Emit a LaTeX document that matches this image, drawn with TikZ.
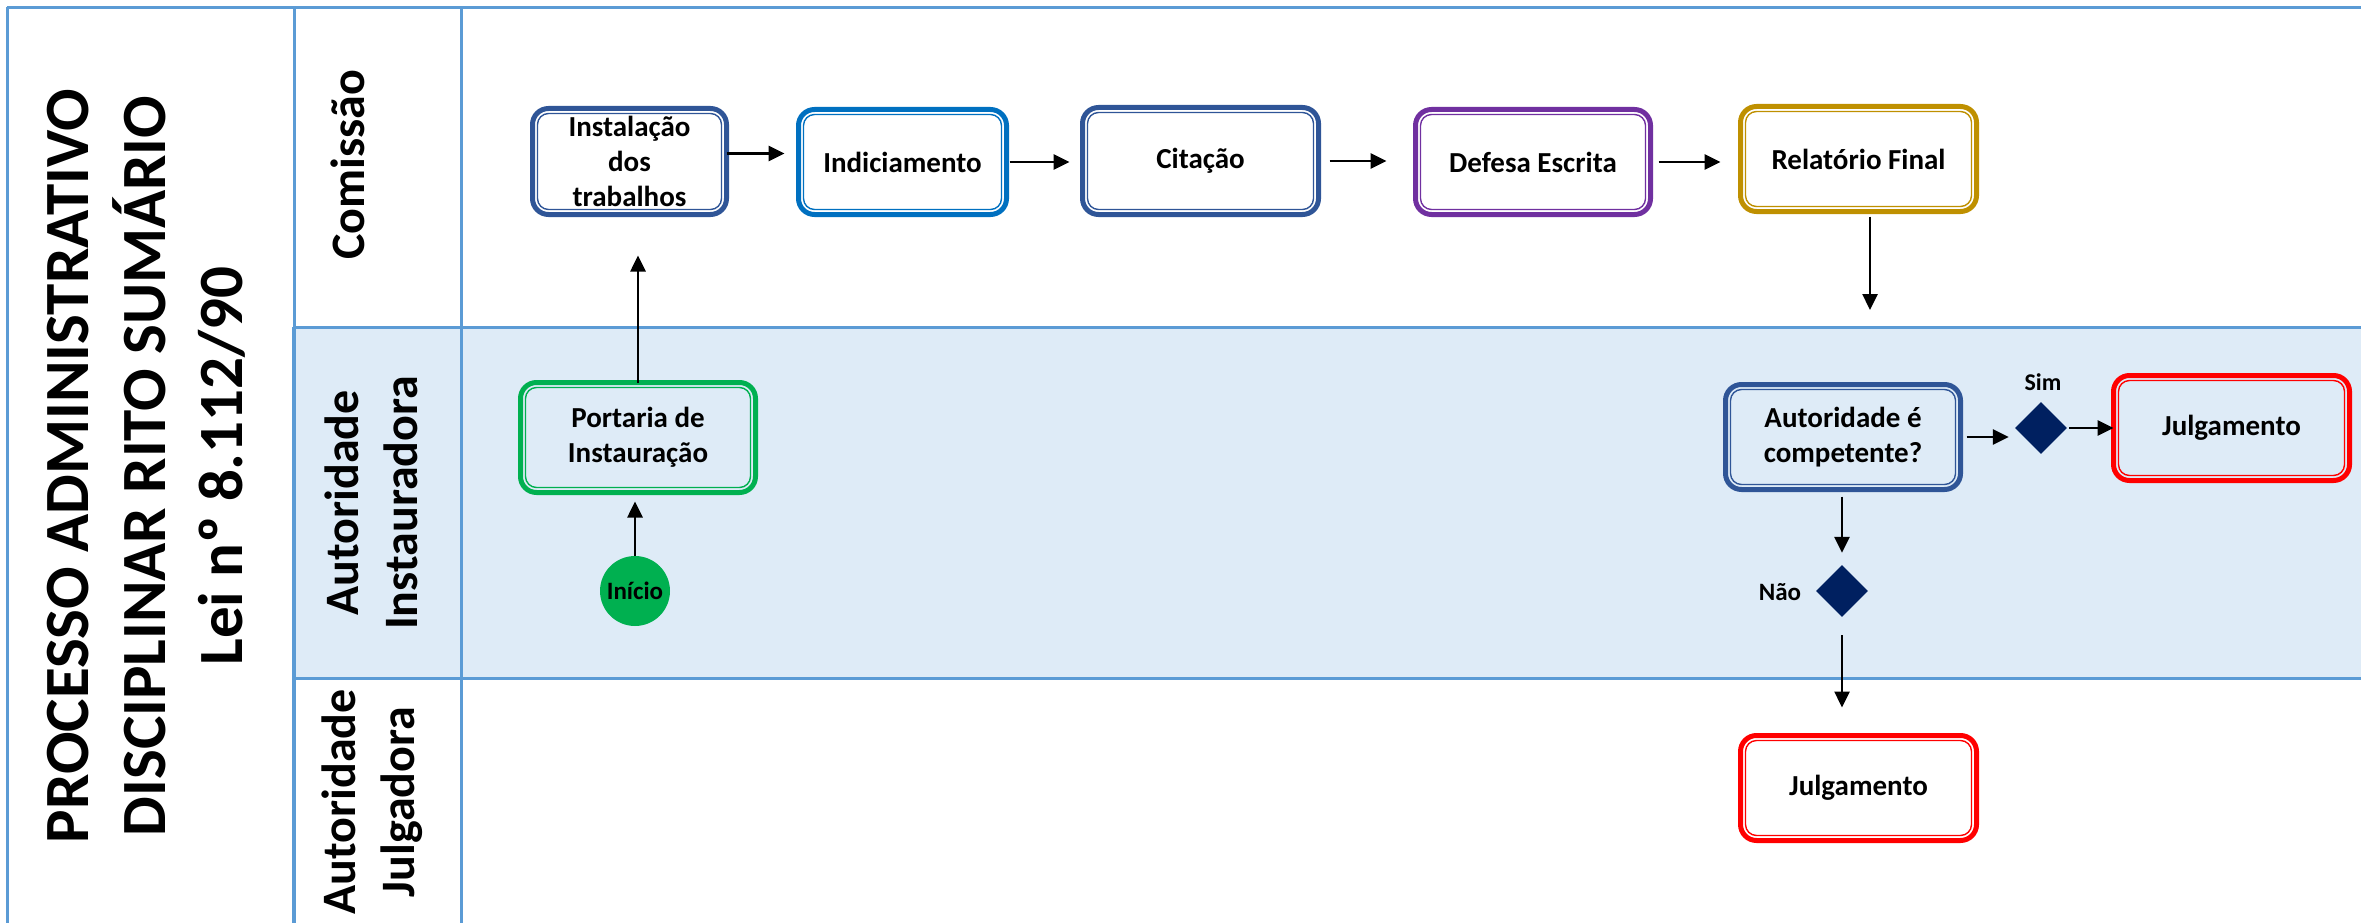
\documentclass[tikz,border=0pt]{standalone}
\usepackage{fontspec}
\setmainfont{Carlito}
\usetikzlibrary{shapes.geometric,arrows.meta}
\definecolor{laneline}{HTML}{5B9BD5}
\definecolor{lanefill}{HTML}{DEEBF7}
\definecolor{dkblue}{HTML}{2F5597}
\definecolor{medblue}{HTML}{0070C0}
\definecolor{purp}{HTML}{7030A0}
\definecolor{goldc}{HTML}{BF9000}
\definecolor{grn}{HTML}{00B050}
\definecolor{rd}{HTML}{FF0000}
\definecolor{navyc}{HTML}{002060}
\newcommand{\innerln}[2]{\draw[draw=#2, line width=1.4pt, rounded corners=11pt] ([shift={(5pt,-5pt)}]#1.north west) rectangle ([shift={(-5pt,5pt)}]#1.south east);}
\tikzset{
  lane/.style={draw=laneline, line width=3pt},
  fbox/.style={draw=#1, line width=5pt, rounded corners=16pt, outer sep=0pt, inner sep=2pt,
    align=center, font=\fontsize{29}{35}\selectfont\bfseries},
  titletxt/.style={rotate=90, align=center, font=\fontsize{63}{77}\selectfont\bfseries},
  lanetxt/.style={rotate=90, align=center, font=\fontsize{48}{59}\selectfont\bfseries},
  gate/.style={diamond, aspect=1, fill=navyc, inner sep=0pt, minimum size=52pt},
  lbl/.style={font=\fontsize{25}{30}\selectfont\bfseries},
  arr/.style={line width=2.6pt, -{Triangle[length=16pt,width=15pt]}},
}
\begin{document}
\begin{tikzpicture}[x=1pt,y=-1pt]
\useasboundingbox (0,0) rectangle (2361,923);
% lanes
\fill[lanefill] (294,327) rectangle (2361,678);
\draw[lane] (7,7.5) -- (2361,7.5);
\draw[lane] (7,7.5) -- (7,923);
\draw[lane] (294,7.5) -- (294,327);
\draw[lane, line width=4.5pt] (294,327) -- (294,923);
\draw[lane] (461,7.5) -- (461,923);
\draw[lane] (294,327) -- (2361,327);
\draw[lane] (294,678) -- (2361,678);
% titles
\node[titletxt] (title) at (146,466) {PROCESSO ADMINISTRATIVO\\DISCIPLINAR RITO SUMÁRIO\\Lei nº 8.112/90};
\node[lanetxt] (lcom) at (348,165) {Comissão};
\node[lanetxt] (lins) at (371,503) {Autoridade\\Instauradora};
\node[lanetxt] (ljul) at (372,802) {Autoridade\\Julgadora};
% boxes
\node[fbox=dkblue, minimum width=194pt, minimum height=106pt] (inst) at (629.5,161.5) {Instalação\\dos\\trabalhos};
\innerln{inst}{dkblue}
\node[fbox=medblue, minimum width=208pt, minimum height=105pt] (indic) at (902.5,162) {Indiciamento};
\innerln{indic}{medblue}
\node[fbox=dkblue, minimum width=236pt, minimum height=107pt] (cit) at (1200.5,161) {Citação};
\innerln{cit}{dkblue}
\node[fbox=purp, minimum width=235pt, minimum height=105pt] (def) at (1533,162) {Defesa Escrita};
\innerln{def}{purp}
\node[fbox=goldc, minimum width=236pt, minimum height=105pt] (rel) at (1858.5,159) {Relatório Final};
\innerln{rel}{goldc}
\node[fbox=grn, minimum width=235pt, minimum height=110pt] (port) at (638,437.5) {Portaria de\\Instauração};
\innerln{port}{grn}
\node[fbox=dkblue, minimum width=235pt, minimum height=105pt] (aut) at (1843,437) {Autoridade é\\competente?};
\innerln{aut}{dkblue}
\node[fbox=rd, minimum width=236pt, minimum height=105pt] (julg1) at (2231.5,428) {Julgamento};
\innerln{julg1}{rd}
\node[fbox=rd, minimum width=236pt, minimum height=105pt] (julg2) at (1858.5,788) {Julgamento};
\innerln{julg2}{rd}
\node[circle, fill=grn, inner sep=0pt, minimum size=70pt, lbl] (ini) at (635,591) {Início};
\node[gate] (sim) at (2041,428) {};
\node[gate] (nao) at (1842,591) {};
\node[lbl, font=\fontsize{24}{28}\selectfont\bfseries] (simlbl) at (2043,382) {Sim};
\node[lbl] (naolbl) at (1780,592) {Não};
% connectors
\coordinate (relend) at (1870,310);
\draw[arr, shorten >=14pt] ([yshift=8pt]inst.east) -- ([yshift=8pt]inst.east -| indic.west);
\draw[arr, shorten <=3pt, shorten >=13pt] (indic.east) -- (indic.east -| cit.west);
\draw[arr, shorten <=11pt, shorten >=29pt] (cit.east) -- (cit.east -| def.west);
\draw[arr, shorten <=8pt, shorten >=20pt] (def.east) -- (def.east -| rel.west);
\draw[arr, shorten <=5pt] (rel.south -| relend) -- (relend);
\draw[arr, shorten >=41pt] (port.north) -- (port.north |- inst.south);
\draw[arr, shorten <=0pt, shorten >=9pt] (ini.north) -- (ini.north |- port.south);
\draw[arr, shorten <=6pt, shorten >=6pt] (aut.east) -- (aut.east -| sim.west);
\draw[arr, shorten <=2pt] (sim.east) -- (sim.east -| julg1.west);
\draw[arr, shorten <=7pt, shorten >=12pt] (aut.south -| nao.north) -- (nao.north);
\draw[arr, shorten <=18pt, shorten >=28pt] (nao.south) -- (nao.south |- julg2.north);
\end{tikzpicture}
\end{document}
